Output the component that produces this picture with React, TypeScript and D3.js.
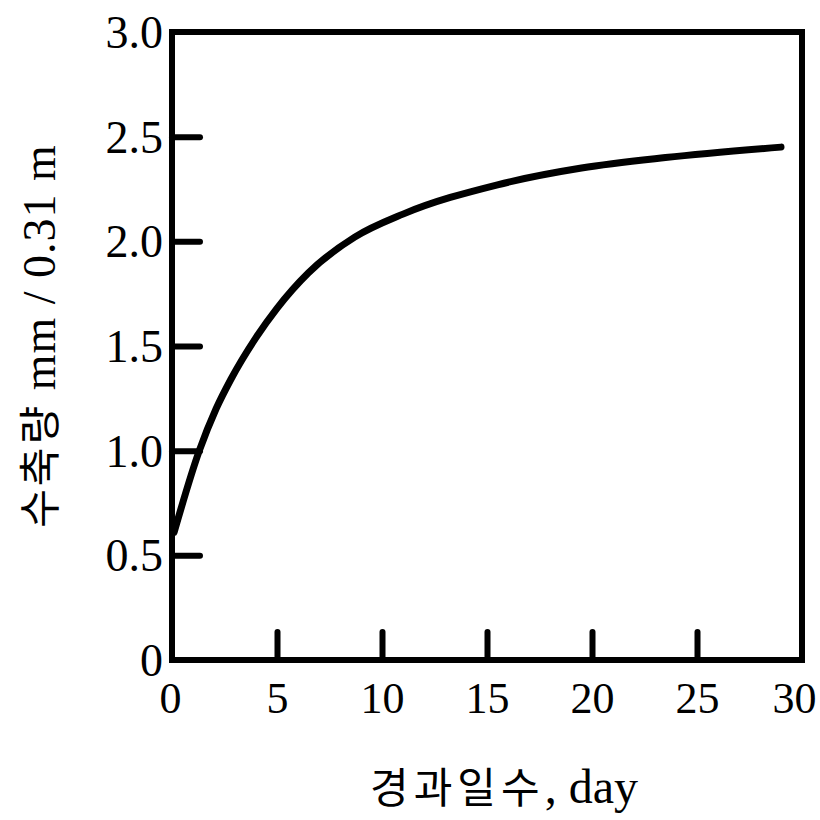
import * as d3 from 'd3';
import { useEffect, useRef } from 'react';

// elapsed days vs. settlement (mm / 0.31 m)
const days = [0.1, 1.3, 2.1, 2.8, 4, 5, 6.5, 8.7, 11, 15.5, 19.5, 23.5, 29];
const settlement = [0.61, 1.0, 1.2, 1.34, 1.54, 1.68, 1.85, 2.02, 2.13, 2.27, 2.35, 2.4, 2.45];

const xTicks = [0, 5, 10, 15, 20, 25, 30];
const yTicks = [0, 0.5, 1.0, 1.5, 2.0, 2.5, 3.0];
const yTickLabels = ['0', '0.5', '1.0', '1.5', '2.0', '2.5', '3.0'];

const xTitleKo = '경과일수';
const xTitleEn = ', day';
const yTitleKo = '수축량';
const yTitleEn = ' mm / 0.31 m';

export default function App() {
  const ref = useRef<SVGSVGElement>(null);

  useEffect(() => {
    const svg = d3.select(ref.current);
    svg.selectAll('*').remove();

    const serif = '"Liberation Serif", "Times New Roman", serif';
    const korean = '"Noto Sans CJK KR", sans-serif';

    const x = d3.scaleLinear().domain([0, 30]).range([172, 802]);
    const y = d3.scaleLinear().domain([0, 3]).range([660, 32]);

    const tick = 28;

    // y axis: inward ticks, labels on the left
    const yAxis = svg
      .append('g')
      .attr('transform', `translate(${x(0)},0)`)
      .call(
        d3
          .axisLeft(y)
          .tickValues(yTicks)
          .tickSize(-tick)
          .tickFormat((d, i) => yTickLabels[i])
      );
    yAxis.select('.domain').remove();
    yAxis
      .selectAll('.tick line')
      .attr('stroke', '#000')
      .attr('stroke-width', 6)
      .attr('stroke-linecap', 'round')
      .filter((d: any) => d === 0 || d === 3)
      .remove();
    yAxis
      .selectAll('.tick text')
      .attr('fill', '#000')
      .attr('font-family', serif)
      .attr('font-size', 46)
      .attr('dy', '0.34em')
      .attr('x', -9);

    // x axis: upward ticks, labels below
    const xAxis = svg
      .append('g')
      .attr('transform', `translate(0,${y(0)})`)
      .call(d3.axisBottom(x).tickValues(xTicks).tickSize(-tick).tickFormat(d3.format('d')));
    xAxis.select('.domain').remove();
    xAxis
      .selectAll('.tick line')
      .attr('stroke', '#000')
      .attr('stroke-width', 6)
      .attr('stroke-linecap', 'round')
      .filter((d: any) => d === 0 || d === 30)
      .remove();
    xAxis
      .selectAll('.tick text')
      .attr('fill', '#000')
      .attr('font-family', serif)
      .attr('font-size', 44)
      .attr('dy', 0)
      .attr('y', 53)
      .attr('dx', (d: any) => (d === 0 ? -2 : d === 30 ? -8 : 0));

    // frame
    svg
      .append('rect')
      .attr('x', x(0))
      .attr('y', y(3))
      .attr('width', x(30) - x(0))
      .attr('height', y(0) - y(3))
      .attr('fill', 'none')
      .attr('stroke', '#000')
      .attr('stroke-width', 6);

    // curve
    const line = d3
      .line<number>()
      .x((d, i) => x(days[i]))
      .y((d) => y(d))
      .curve(d3.curveMonotoneX);

    svg
      .append('path')
      .datum(settlement)
      .attr('d', line)
      .attr('fill', 'none')
      .attr('stroke', '#000')
      .attr('stroke-width', 7)
      .attr('stroke-linecap', 'round');

    // x title
    const xt = svg
      .append('text')
      .attr('x', 504)
      .attr('y', 803)
      .attr('text-anchor', 'middle')
      .attr('fill', '#000');
    xt.append('tspan').attr('font-family', korean).attr('font-size', 42).attr('letter-spacing', 5).text(xTitleKo);
    xt.append('tspan').attr('font-family', serif).attr('font-size', 48).text(xTitleEn);

    // y title
    const yt = svg
      .append('text')
      .attr('transform', `translate(55,${336}) rotate(-90)`)
      .attr('text-anchor', 'middle')
      .attr('fill', '#000');
    yt.append('tspan').attr('font-family', korean).attr('font-size', 42).attr('letter-spacing', 3).text(yTitleKo);
    yt.append('tspan').attr('font-family', serif).attr('font-size', 46).attr('letter-spacing', 1).text(yTitleEn);
  }, []);

  return (
    <svg
      ref={ref}
      width={820}
      height={820}
      style={{ position: 'absolute', left: 0, top: 0, background: '#fff', whiteSpace: 'pre' }}
    />
  );
}
